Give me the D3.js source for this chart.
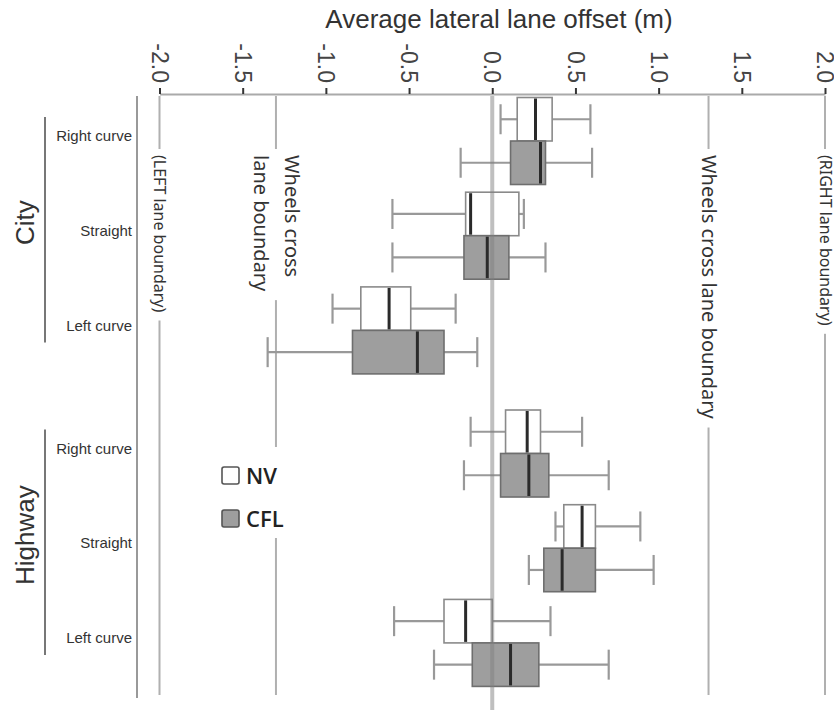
<!DOCTYPE html>
<html>
<head>
<meta charset="utf-8">
<style>
    body {
        margin: 0;
        background: #fff;
    }

    svg {
        display: block;
        font-family: "Liberation Sans", Arial, sans-serif;
    }
</style>
</head>
<body>
<svg width="834" height="710"></svg>

<script src="https://d3js.org/d3.v7.min.js"></script>
<script>
    // ---- data ----
    let groups = ["City", "Highway"]
    let conditions = ["Right curve", "Straight", "Left curve"]
    let seriesNames = ["NV", "CFL"]

    // [lower whisker, Q1, median, Q3, upper whisker] per row, in row order
    let nvStats = [
        [0.05, 0.15, 0.26, 0.36, 0.59],
        [-0.60, -0.16, -0.13, 0.16, 0.19],
        [-0.96, -0.79, -0.62, -0.49, -0.22],
        [-0.13, 0.08, 0.21, 0.29, 0.54],
        [0.38, 0.43, 0.54, 0.62, 0.89],
        [-0.59, -0.29, -0.16, 0.00, 0.35]
    ]
    let cflStats = [
        [-0.19, 0.11, 0.29, 0.32, 0.60],
        [-0.60, -0.17, -0.03, 0.10, 0.32],
        [-1.35, -0.84, -0.45, -0.29, -0.09],
        [-0.17, 0.05, 0.22, 0.34, 0.70],
        [0.22, 0.31, 0.42, 0.62, 0.97],
        [-0.35, -0.12, 0.11, 0.28, 0.70]
    ]

    let tickValues = [-2, -1.5, -1, -0.5, 0, 0.5, 1, 1.5, 2]
    let tickLabels = ["-2.0", "-1.5", "-1.0", "-0.5", "0.0", "0.5", "1.0", "1.5", "2.0"]

    let refValues = [-2, -1.3, 1.3, 2]
    let refLabels = [
        ["(LEFT lane boundary)"],
        ["Wheels cross", "lane boundary"],
        ["Wheels cross lane boundary"],
        ["(RIGHT lane boundary)"]
    ]

    let title = "Average lateral lane offset (m)"

    // ---- layout ----
    let svg = d3.select("svg")
    let axisY = 94
    let plotBottom = 695
    let boxH = 43.5
    let groupGap = 0.3

    let x = d3.scaleLinear()
        .domain([-2, 2])
        .range([159.5, 825])

    // row index -> y of the line between the NV box and the CFL box
    let y = d3.scaleLinear()
        .domain([0, 1])
        .range([141, 235.7])

    let color = d3.scaleOrdinal()
        .domain(seriesNames)
        .range(["#ffffff", "#9e9e9e"])

    let rows = []
    groups.forEach((g, gi) => {
        conditions.forEach((c, ci) => {
            let idx = gi * conditions.length + ci
            rows.push({ group: g, gi: gi, cond: c, idx: idx, cy: y(idx + gi * groupGap) })
        })
    })

    let boxes = []
    rows.forEach(r => {
        [nvStats, cflStats].forEach((stats, si) => {
            let s = stats[r.idx]
            boxes.push({
                series: seriesNames[si], si: si,
                lo: s[0], q1: s[1], med: s[2], q3: s[3], hi: s[4],
                top: si === 0 ? r.cy - boxH : r.cy,
                mid: si === 0 ? r.cy - boxH / 2 : r.cy + boxH / 2
            })
        })
    })

    // title
    svg.append("text")
        .attr("x", 499)
        .attr("y", 28)
        .attr("text-anchor", "middle")
        .style("font-size", "26px")
        .style("fill", "#333")
        .text(title)

    // top axis
    let axis = svg.append("g")
        .attr("transform", `translate(0,${axisY})`)
        .call(d3.axisTop(x)
            .tickValues(tickValues)
            .tickFormat((d, i) => tickLabels[i])
            .tickSize(6)
            .tickSizeOuter(0))

    axis.select(".domain")
        .style("stroke", "#aaa")
        .style("stroke-width", 2)

    axis.selectAll(".tick line")
        .style("stroke", "#333")
        .style("stroke-width", 2)

    axis.selectAll(".tick text")
        .attr("transform", "rotate(90)")
        .attr("x", -11)
        .attr("y", 0)
        .attr("dy", "0.36em")
        .style("text-anchor", "end")
        .style("font-size", "23px")
        .style("font-family", "'Liberation Sans', Arial, sans-serif")
        .style("fill", "#444")

    // left axis line
    svg.append("line")
        .attr("x1", 137).attr("x2", 137)
        .attr("y1", axisY + 2).attr("y2", plotBottom + 3)
        .style("stroke", "#999")
        .style("stroke-width", 2)

    // reference lines with their labels
    refValues.forEach((v, i) => {
        let lx = x(v)
        svg.append("line")
            .attr("x1", lx).attr("x2", lx)
            .attr("y1", axisY + 2).attr("y2", plotBottom)
            .style("stroke", "#b0b0b0")
            .style("stroke-width", 2)

        let lines = refLabels[i]
        let fs = lines[0].startsWith("(") ? 16 : 20
        let g = svg.append("g")
            .attr("transform", `translate(${lx},155) rotate(90)`)

        let bg = g.append("rect").style("fill", "#fff")
        let t = g.append("text")
            .style("font-family", "'Noto Sans', 'Open Sans', sans-serif")
            .style("font-size", fs + "px")
            .style("fill", "#333")

        lines.forEach((ln, k) => {
            let off = lines.length === 1 ? 0 : (k === 0 ? -16 : 15)
            t.append("tspan")
                .attr("x", 0)
                .attr("y", off)
                .attr("dy", "0.34em")
                .text(ln)
        })

        let bb = t.node().getBBox()
        bg.attr("x", bb.x - 6)
            .attr("y", bb.y - 2)
            .attr("width", bb.width + 14)
            .attr("height", bb.height + 4)
    })

    // group brackets and labels
    groups.forEach((g, gi) => {
        let gr = rows.filter(r => r.gi === gi)
        let y0 = gr[0].cy - 24
        let y1 = gr[gr.length - 1].cy + 12
        svg.append("line")
            .attr("x1", 45).attr("x2", 45)
            .attr("y1", y0).attr("y2", y1)
            .style("stroke", "#777")
            .style("stroke-width", 2)

        let cy = d3.mean(gr, r => r.cy) - 13
        svg.append("text")
            .attr("transform", `translate(25,${cy}) rotate(-90)`)
            .attr("dy", "0.36em")
            .attr("text-anchor", "middle")
            .style("font-size", "26px")
            .style("fill", "#333")
            .text(g)
    })

    // condition labels
    svg.selectAll(".cond")
        .data(rows)
        .join("text")
        .attr("class", "cond")
        .attr("x", 132)
        .attr("y", d => d.cy - 5)
        .attr("dy", "0.35em")
        .attr("text-anchor", "end")
        .style("font-size", "15px")
        .style("fill", "#333")
        .text(d => d.cond)

    // whiskers
    let wh = svg.append("g")
        .style("stroke", "#999")
        .style("stroke-width", 2.2)

    wh.selectAll(".w-lo")
        .data(boxes)
        .join("line")
        .attr("class", "w-lo")
        .attr("x1", d => x(d.lo)).attr("x2", d => x(d.q1))
        .attr("y1", d => d.mid).attr("y2", d => d.mid)

    wh.selectAll(".w-hi")
        .data(boxes)
        .join("line")
        .attr("class", "w-hi")
        .attr("x1", d => x(d.q3)).attr("x2", d => x(d.hi))
        .attr("y1", d => d.mid).attr("y2", d => d.mid)

    wh.selectAll(".cap-lo")
        .data(boxes)
        .join("line")
        .attr("class", "cap-lo")
        .attr("x1", d => x(d.lo)).attr("x2", d => x(d.lo))
        .attr("y1", d => d.mid - 15).attr("y2", d => d.mid + 15)

    wh.selectAll(".cap-hi")
        .data(boxes)
        .join("line")
        .attr("class", "cap-hi")
        .attr("x1", d => x(d.hi)).attr("x2", d => x(d.hi))
        .attr("y1", d => d.mid - 15).attr("y2", d => d.mid + 15)

    // boxes
    svg.selectAll(".box")
        .data(boxes)
        .join("rect")
        .attr("class", "box")
        .attr("x", d => x(d.q1))
        .attr("y", d => d.top)
        .attr("width", d => x(d.q3) - x(d.q1))
        .attr("height", boxH)
        .style("fill", d => color(d.series))
        .style("stroke", d => d.si === 0 ? "#8a8a8a" : "#6e6e6e")
        .style("stroke-width", 1.6)

    // medians
    svg.selectAll(".median")
        .data(boxes)
        .join("line")
        .attr("class", "median")
        .attr("x1", d => x(d.med)).attr("x2", d => x(d.med))
        .attr("y1", d => d.top + 1).attr("y2", d => d.top + boxH - 1)
        .style("stroke", "#2a2a2a")
        .style("stroke-width", 3)

    // zero line on top
    svg.append("line")
        .attr("x1", x(0)).attr("x2", x(0))
        .attr("y1", axisY + 2).attr("y2", 710)
        .style("stroke", "#808080")
        .style("stroke-opacity", 0.5)
        .style("stroke-width", 4)

    // legend
    let legend = svg.append("g")
        .attr("transform", "translate(222,467)")

    legend.append("rect")
        .attr("x", -10).attr("y", -20)
        .attr("width", 90).attr("height", 91)
        .style("fill", "#fff")

    let items = legend.selectAll(".item")
        .data(seriesNames)
        .join("g")
        .attr("class", "item")
        .attr("transform", (d, i) => `translate(0,${i * 43})`)

    items.append("rect")
        .attr("width", 17).attr("height", 17)
        .attr("rx", 2)
        .style("fill", d => color(d))
        .style("stroke", "#555")
        .style("stroke-width", 1.6)

    items.append("text")
        .attr("x", 24)
        .attr("y", 9)
        .attr("dy", "0.36em")
        .style("font-family", "'Open Sans', 'Noto Sans', sans-serif")
        .style("font-weight", 600)
        .style("font-size", "22px")
        .style("fill", "#222")
        .text(d => d)
</script>
</body>
</html>
